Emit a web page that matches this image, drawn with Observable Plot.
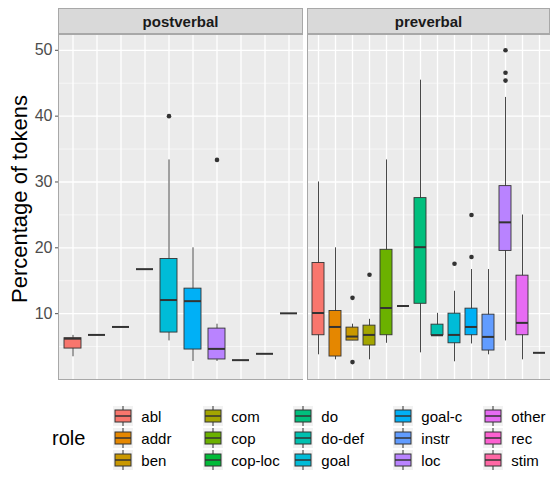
<!DOCTYPE html>
<html><head><meta charset="utf-8">
<script src="https://cdn.jsdelivr.net/npm/d3@7"></script>
<script src="https://cdn.jsdelivr.net/npm/@observablehq/plot@0.6"></script>
<style>
body{margin:0;font-family:Arial,"Liberation Sans",sans-serif;background:#fff}
#wrap{position:relative;width:558px;height:488px}
.strip{position:absolute;top:8px;height:26px;background:#D9D9D9;border:1px solid #a8a8a8;box-sizing:border-box;text-align:center;font-weight:bold;font-size:15px;line-height:25px;color:#1a1a1a}
.panel{position:absolute;top:34px}
#ytitle{position:absolute;left:-75px;top:195px;width:190px;transform:rotate(-90deg);font-size:22px;color:#000;white-space:nowrap}
#legend{position:absolute;top:405px;left:52px;display:flex;align-items:center}
#legend .t{font-size:20px;margin-right:28px}
#legend .cols{display:flex}
#legend .col{display:flex;flex-direction:column;margin-right:8px}
#legend .it{display:flex;align-items:center;height:22px;font-size:15px;color:#000}
#legend svg{margin-right:8px}
</style></head><body>
<div id="wrap">
  <div class="strip" style="left:58px;width:245px">postverbal</div>
  <div class="strip" style="left:307px;width:243px">preverbal</div>
  <div id="ytitle">Percentage of tokens</div>
  <div class="panel" id="p1" style="left:0"></div>
  <div class="panel" id="p2" style="left:307px"></div>
  <div id="legend"></div>
</div>
<script>
const allRoles = ["abl","addr","ben","com","cop","cop-loc","do","do-def","goal","goal-c","instr","loc","other","rec","stim"];
const palette = ["#F8766D","#E58700","#C99800","#A3A500","#6BB100","#00BA38","#00BF7D","#00C0AF","#00BCD8","#00B0F6","#619CFF","#B983FF","#E76BF3","#FD61D1","#FF67A4"];

// postverbal
const postRoles = ["abl","addr","ben","com","goal","goal-c","loc","other","rec","stim"];
const postQ1  = [4.7, 6.77, 7.98, 16.76, 7.13, 4.55, 3.04, 2.94, 3.9, 10.05];
const postMed = [6.2, 6.77, 7.98, 16.76, 12.07, 11.9, 4.65, 2.94, 3.9, 10.05];
const postQ3  = [6.27, 6.77, 7.98, 16.76, 18.3, 13.8, 7.73, 2.94, 3.9, 10.05];
const postLo  = [3.45, 6.77, 7.98, 16.76, 5.86, 2.74, 2.74, 2.94, 3.9, 10.05];
const postHi  = [6.7, 6.77, 7.98, 16.76, 33.35, 20.0, 8.4, 2.94, 3.9, 10.05];
const postOutRole = ["goal","loc"];
const postOutVal  = [40.0, 33.35];

// preverbal
const preRoles = ["abl","addr","ben","com","cop","cop-loc","do","do-def","goal","goal-c","instr","loc","other","rec"];
const preQ1  = [6.72, 3.49, 5.91, 5.16, 6.72, 11.16, 11.5, 6.72, 5.5, 6.72, 4.4, 19.53, 6.72, 4.05];
const preMed = [10.1, 7.98, 6.52, 6.77, 10.86, 11.16, 20.1, 6.72, 6.77, 7.98, 6.47, 23.87, 8.6, 4.05];
const preQ3  = [17.7, 10.4, 7.88, 8.18, 19.7, 11.16, 27.55, 8.33, 10.0, 10.76, 9.85, 29.37, 15.77, 4.05];
const preLo  = [3.75, 2.99, 5.9, 2.99, 5.5, 11.16, 4.05, 6.72, 2.69, 5.4, 3.75, 5.86, 2.99, 4.05];
const preHi  = [30.0, 20.0, 8.4, 9.14, 33.35, 11.16, 45.46, 10.05, 13.4, 16.7, 16.7, 42.84, 24.98, 4.05];
const preOutRole = ["ben","ben","com","goal","goal-c","goal-c","loc","loc","loc"];
const preOutVal  = [12.4, 2.64, 15.9, 17.57, 18.6, 24.98, 45.4, 46.6, 50.0];

const yMajor = [10,20,30,40,50];
const yMinor = [5,15,25,35,45];

function panel(roles, q1, med, q3, lo, hi, outRole, outVal, opts) {
  const rows = roles.map((r,i) => ({role:r, q1:q1[i], med:med[i], q3:q3[i], lo:lo[i], hi:hi[i]}));
  const outs = outRole.map((r,i) => ({role:r, v:outVal[i]}));
  return Plot.plot({
    width: opts.width, height: 346,
    marginLeft: opts.marginLeft, marginRight: opts.marginRight, marginTop: 0, marginBottom: 1,
    style: {fontFamily: "Arial, 'Liberation Sans', sans-serif"},
    x: {type: "band", domain: roles, paddingInner: 0.28, paddingOuter: 0.24, axis: null},
    y: {domain: [0, 52.4], axis: null},
    color: {domain: allRoles, range: palette},
    marks: [
      Plot.frame({fill: "#EBEBEB", stroke: "#a8a8a8"}),
      Plot.ruleY(yMinor, {stroke: "#fff", strokeWidth: 0.6}),
      Plot.ruleY(yMajor, {stroke: "#fff", strokeWidth: 1.3}),
      Plot.ruleX(roles, {x: d => d, stroke: "#fff", strokeWidth: 1.3}),
      opts.axis ? Plot.axisY({ticks: yMajor, tickSize: 3, fontSize: 16, color: "#4D4D4D", tickPadding: 3, label: null}) : null,
      Plot.ruleX(rows, {x: "role", y1: "lo", y2: "hi", stroke: "#333", strokeWidth: 0.9}),
      Plot.barY(rows, {x: "role", y1: "q1", y2: "q3", fill: "role", stroke: "#333", strokeWidth: 0.9}),
      Plot.tickY(rows, {x: "role", y: "med", stroke: "#333", strokeWidth: 2}),
      Plot.dot(outs, {x: "role", y: "v", r: 2.3, fill: "#333"}),
      Plot.frame({stroke: "#a8a8a8"})
    ]
  });
}

document.getElementById("p1").append(panel(postRoles, postQ1, postMed, postQ3, postLo, postHi, postOutRole, postOutVal, {width: 303, marginLeft: 58, marginRight: 0, axis: true}));
document.getElementById("p2").append(panel(preRoles, preQ1, preMed, preQ3, preLo, preHi, preOutRole, preOutVal, {width: 243, marginLeft: 0, marginRight: 0, axis: false}));

// legend
const leg = d3.select("#legend");
leg.append("div").attr("class", "t").text("role");
const cols = leg.append("div").attr("class", "cols");
for (let c = 0; c < 5; c++) {
  const col = cols.append("div").attr("class", "col");
  for (let r = 0; r < 3; r++) {
    const i = c*3 + r;
    const it = col.append("div").attr("class", "it");
    const s = it.append("svg").attr("width", 20).attr("height", 20);
    s.append("rect").attr("width", 20).attr("height", 20).attr("fill", "#F2F2F2");
    s.append("line").attr("x1", 10).attr("x2", 10).attr("y1", 0).attr("y2", 20).attr("stroke", "#333");
    s.append("rect").attr("x", 2).attr("y", 4).attr("width", 16).attr("height", 12).attr("fill", palette[i]).attr("stroke", "#333");
    s.append("line").attr("x1", 2).attr("x2", 18).attr("y1", 10).attr("y2", 10).attr("stroke", "#333").attr("stroke-width", 1.5);
    it.append("span").text(allRoles[i]).style("width", c === 2 ? "64px" : "54px");
  }
}
</script>
</body></html>
